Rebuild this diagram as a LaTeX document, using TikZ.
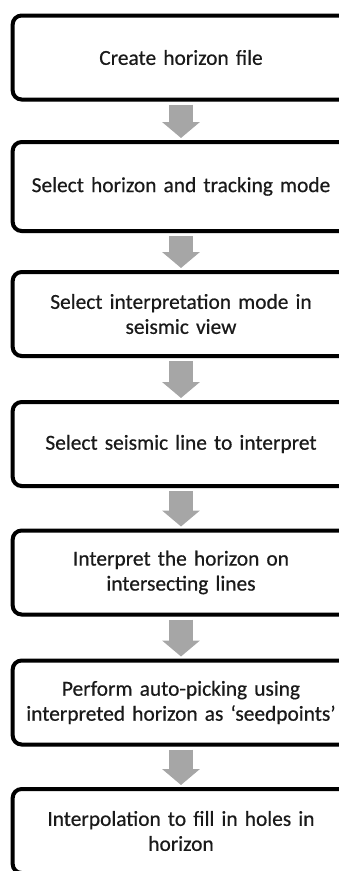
\documentclass[tikz,border=0pt]{standalone}
\usepackage{fontspec}
\setmainfont{Carlito}
\newfontfamily\boxfont{Carlito}[FakeBold=0.5, Ligatures=TeX]
\usetikzlibrary{arrows.meta,shadows}

\definecolor{arrowgray}{HTML}{A6A6A6}
\definecolor{textblack}{HTML}{1A1A1A}

\tikzset{
    stepbox/.style={draw=black, line width=4pt, rounded corners=9pt, fill=white,
        minimum width=332pt, minimum height=84pt, text width=330pt, align=center,
        font=\boxfont\fontsize{21.4}{25}\selectfont, text=textblack,
        drop shadow={shadow xshift=0.6pt, shadow yshift=-2pt, opacity=0.18}},
    flowarrow/.style={draw=arrowgray, line width=24pt,
        -{Triangle[width=37pt, length=16pt, fill=arrowgray]},
        shorten <=3pt, shorten >=2pt}
}

\begin{document}
\begin{tikzpicture}[x=1pt, y=1pt]  % one unit is one pixel of the reference
    % Keep the page size of the reference and cut off what runs past it
    \useasboundingbox (0,0) rectangle (339,-871);
    \clip (0,0) rectangle (339,-871);

    % Draw the steps of the workflow
    \node[stepbox] (create)  at (181,-57.5) {Create horizon file};
    \node[stepbox, minimum height=89pt] (track) at (181,-186.5) {Select horizon and tracking mode};
    \node[stepbox] (mode)    at (181,-314) {Select interpretation mode in\\ seismic view};
    \node[stepbox] (line)    at (181,-444) {Select seismic line to interpret};
    \node[stepbox] (cross)   at (181,-572.5) {Interpret the horizon on\\ intersecting lines};
    \node[stepbox] (auto)    at (181,-702.5) {Perform auto-picking using\\ interpreted horizon as ‘seedpoints’};
    \node[stepbox] (interp)  at (181,-831) {Interpolation to fill in holes in\\ horizon};

    % Draw the grey arrows between the steps
    \foreach \a/\b in {create/track, track/mode, mode/line, line/cross, cross/auto, auto/interp} {
        \draw[flowarrow] (\a.south) -- (\b.north);
    }

\end{tikzpicture}
\end{document}
